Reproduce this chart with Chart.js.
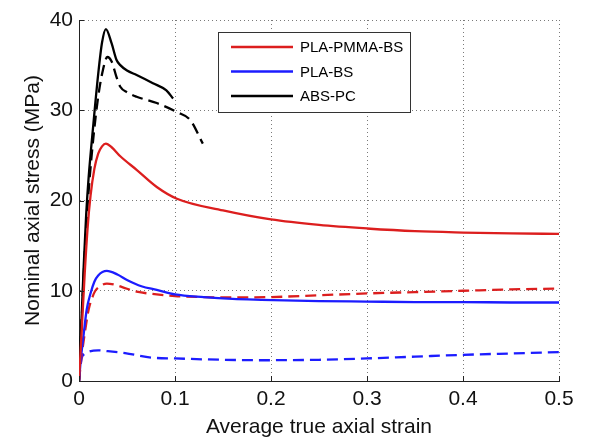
<!DOCTYPE html>
<html>
<head>
<meta charset="utf-8">
<script src="https://cdn.jsdelivr.net/npm/chart.js@4/dist/chart.umd.min.js"></script>
<style>
  html, body { margin: 0; padding: 0; background: #fff; }
  #wrap { width: 597px; height: 440px; }
</style>
</head>
<body>
<div id="wrap"><canvas id="chart" width="597" height="440"></canvas></div>
<script>
// Stress-strain curves (strain in -, stress in MPa)
const seriesNames = ['PLA-PMMA-BS', 'PLA-BS', 'ABS-PC'];
const xTicks = [0, 0.1, 0.2, 0.3, 0.4, 0.5];
const yTicks = [0, 10, 20, 30, 40];

const strainRedSolid = [0, 0.003, 0.006, 0.009, 0.012, 0.016, 0.02, 0.024, 0.028, 0.034, 0.043, 0.06, 0.081, 0.102, 0.15, 0.2, 0.25, 0.3, 0.35, 0.4, 0.45, 0.5];
const stressRedSolid = [0, 6, 12, 17, 20.5, 23.5, 25.2, 26.0, 26.3, 25.9, 24.9, 23.4, 21.5, 20.2, 18.9, 17.9, 17.3, 16.9, 16.6, 16.45, 16.35, 16.3];

const strainRedDash = [0, 0.003, 0.006, 0.01, 0.014, 0.017, 0.022, 0.029, 0.036, 0.045, 0.06, 0.081, 0.1, 0.13, 0.16, 0.2, 0.25, 0.3, 0.35, 0.4, 0.45, 0.5];
const stressRedDash = [0, 3, 5.3, 7.9, 9.3, 10.0, 10.5, 10.8, 10.7, 10.4, 9.9, 9.6, 9.4, 9.3, 9.25, 9.3, 9.5, 9.7, 9.85, 10.0, 10.15, 10.25];

const strainBlueSolid = [0, 0.002, 0.005, 0.008, 0.012, 0.016, 0.02, 0.029, 0.04, 0.05, 0.065, 0.081, 0.1, 0.13, 0.16, 0.19, 0.25, 0.3, 0.35, 0.4, 0.45, 0.5];
const stressBlueSolid = [0, 2.5, 5.3, 7.9, 9.7, 11.0, 11.7, 12.2, 11.8, 11.2, 10.5, 10.1, 9.6, 9.3, 9.1, 9.0, 8.85, 8.8, 8.75, 8.75, 8.7, 8.7];

const strainBlueDash = [0, 0.001, 0.003, 0.006, 0.01, 0.02, 0.03, 0.048, 0.075, 0.1, 0.15, 0.19, 0.25, 0.3, 0.35, 0.4, 0.45, 0.5];
const stressBlueDash = [0, 1.2, 2.6, 3.0, 3.25, 3.4, 3.3, 3.1, 2.6, 2.5, 2.35, 2.3, 2.35, 2.5, 2.7, 2.9, 3.05, 3.2];

const strainBlackSolid = [0, 0.0025, 0.005, 0.0075, 0.01, 0.015, 0.02, 0.024, 0.028, 0.034, 0.039, 0.043, 0.05, 0.06, 0.077, 0.091, 0.098];
const stressBlackSolid = [0, 6.5, 13, 18.5, 22.5, 28.5, 34, 37.5, 39, 37.4, 35.6, 35, 34.4, 33.9, 33, 32.2, 31.3];

const strainBlackDash = [0, 0.0025, 0.005, 0.0075, 0.01, 0.015, 0.02, 0.025, 0.0295, 0.034, 0.039, 0.043, 0.05, 0.06, 0.081, 0.102, 0.116, 0.129];
const stressBlackDash = [0, 6, 12, 17, 21, 27, 31.5, 34.5, 35.9, 35.4, 33.7, 32.6, 32.0, 31.5, 30.8, 29.8, 28.9, 26.3];

const RED = '#dc1e1e';
const BLUE = '#1c1cff';
const BLACK = '#000000';
const FONT = '"Liberation Sans", Arial, sans-serif';

function pts(xs, ys) {
    return xs.map((x, i) => ({ x: x, y: ys[i] }));
}

function makeSet(label, xs, ys, color, dashed) {
    return {
        label: label,
        data: pts(xs, ys),
        borderColor: color,
        backgroundColor: color,
        borderWidth: 2.3,
        borderDash: dashed ? [11, 6] : [],
        pointRadius: 0,
        cubicInterpolationMode: 'monotone',
        fill: false
    };
}

const datasets = [
    makeSet(seriesNames[0], strainRedSolid, stressRedSolid, RED, false),
    makeSet(seriesNames[1], strainBlueSolid, stressBlueSolid, BLUE, false),
    makeSet(seriesNames[2], strainBlackSolid, stressBlackSolid, BLACK, false),
    makeSet(seriesNames[0] + ' (2)', strainRedDash, stressRedDash, RED, true),
    makeSet(seriesNames[1] + ' (2)', strainBlueDash, stressBlueDash, BLUE, true),
    makeSet(seriesNames[2] + ' (2)', strainBlackDash, stressBlackDash, BLACK, true)
];

// MATLAB-like inward tick marks
const inwardTicks = {
    id: 'inwardTicks',
    afterDatasetsDraw(chart) {
        const { ctx, chartArea, scales } = chart;
        ctx.save();
        ctx.strokeStyle = '#222';
        ctx.lineWidth = 1;
        ctx.beginPath();
        xTicks.forEach(v => {
            const px = Math.round(scales.x.getPixelForValue(v)) + 0.5;
            ctx.moveTo(px, chartArea.bottom);
            ctx.lineTo(px, chartArea.bottom - 5);
        });
        yTicks.forEach(v => {
            const py = Math.round(scales.y.getPixelForValue(v)) + 0.5;
            ctx.moveTo(chartArea.left, py);
            ctx.lineTo(chartArea.left + 5, py);
        });
        ctx.stroke();
        ctx.restore();
    }
};

// Legend box inside the axes (top right)
const boxLegend = {
    id: 'boxLegend',
    afterDraw(chart) {
        const ctx = chart.ctx;
        const bx = 218, by = 32, bw = 192, bh = 80;
        ctx.save();
        ctx.fillStyle = '#fff';
        ctx.fillRect(bx, by, bw, bh);
        ctx.strokeStyle = '#333';
        ctx.lineWidth = 1;
        ctx.strokeRect(bx + 0.5, by + 0.5, bw, bh);
        ctx.font = '15px ' + FONT;
        ctx.textBaseline = 'middle';
        for (let i = 0; i < 3; i++) {
            const ds = chart.data.datasets[i];
            const y = by + 15 + i * 24.5;
            ctx.strokeStyle = ds.borderColor;
            ctx.lineWidth = 2.3;
            ctx.setLineDash([]);
            ctx.beginPath();
            ctx.moveTo(bx + 13, y);
            ctx.lineTo(bx + 75, y);
            ctx.stroke();
            ctx.fillStyle = '#000';
            ctx.fillText(ds.label, bx + 82, y + 1);
        }
        ctx.restore();
    }
};

const gridStyle = {
    color: '#7a7a7a',
    lineWidth: 1,
    drawTicks: false
};

new Chart(document.getElementById('chart'), {
    type: 'line',
    data: { datasets: datasets },
    options: {
        responsive: false,
        animation: false,
        layout: { padding: { left: 0, top: 20, right: 38, bottom: 0 } },
        plugins: {
            legend: { display: false },
            tooltip: { enabled: false }
        },
        scales: {
            x: {
                type: 'linear',
                min: 0,
                max: 0.5,
                afterBuildTicks: (scale) => { scale.ticks = xTicks.map(v => ({ value: v })); },
                afterFit: (scale) => { scale.height = 59; },
                grid: gridStyle,
                border: { display: true, color: '#222', width: 1, dash: [1, 3] },
                ticks: {
                    color: '#111',
                    padding: 6,
                    maxRotation: 0,
                    font: { family: FONT, size: 21 },
                    callback: (v) => String(v)
                },
                title: {
                    display: true,
                    text: 'Average true axial strain',
                    color: '#111',
                    padding: { top: 0, bottom: 0 },
                    font: { family: FONT, size: 21 }
                }
            },
            y: {
                type: 'linear',
                min: 0,
                max: 40,
                afterBuildTicks: (scale) => { scale.ticks = yTicks.map(v => ({ value: v })); },
                afterFit: (scale) => { scale.width = 79; },
                grid: gridStyle,
                border: { display: true, color: '#222', width: 1, dash: [1, 3] },
                ticks: {
                    color: '#111',
                    padding: 6,
                    font: { family: FONT, size: 21 }
                },
                title: {
                    display: true,
                    text: 'Nominal axial stress (MPa)',
                    color: '#111',
                    padding: { top: 21, bottom: 0 },
                    font: { family: FONT, size: 21 }
                }
            }
        }
    },
    plugins: [inwardTicks, boxLegend]
});
</script>
</body>
</html>
